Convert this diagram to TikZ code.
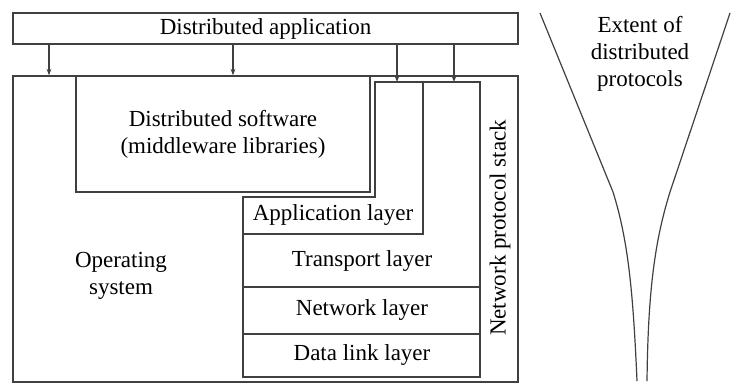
\documentclass[tikz,border=0pt]{standalone}
\usepackage{fontspec}
\setmainfont{Liberation Serif}
\usepackage{tikz}
\usetikzlibrary{positioning, arrows.meta}
\colorlet{edgegray}{black!75}

\begin{document}
\begin{tikzpicture}[x=0.5pt, y=-0.5pt,
    box/.style={draw=edgegray, line width=0.7pt, inner sep=0pt},
    lbl/.style={font=\fontsize{11.5}{13.5}\selectfont, align=center, inner sep=1pt},
    callarrow/.style={draw=edgegray, line width=0.6pt, -{Stealth[length=3.2pt, width=2.4pt]}}]
\useasboundingbox (0,0) rectangle (731,385);
% Distributed application
\node[box, lbl, minimum width=252.5pt, minimum height=15.5pt] (app) at (265.5,28.5)
    {Distributed application};
% Operating system and middleware
\node[box, minimum width=252.5pt, minimum height=153pt] (os) at (265.5,229) {};
\node[box, lbl, minimum width=147pt, minimum height=58pt] (mw) at (223,134)
    {Distributed software\\(middleware libraries)};
\node[lbl] (ostext) at (121,276) {Operating\\system};
% Network protocol stack outline
\coordinate (st1) at (375,82);
\coordinate (st2) at (480,82);
\coordinate (st3) at (480,377);
\coordinate (st4) at (243,377);
\coordinate (st5) at (243,197);
\coordinate (st6) at (375,197);
\draw[edgegray, line width=0.7pt] (st1) -- (st2) -- (st3) -- (st4) -- (st5) -- (st6) -- cycle;
% Layer separators
\coordinate (ap1) at (423,82);
\coordinate (ap2) at (423,234);
\coordinate (ap3) at (243,234);
\draw[edgegray, line width=0.7pt] (ap1) -- (ap2) -- (ap3);
\foreach \yy in {287, 334}{
    \draw[edgegray, line width=0.7pt] (243,\yy) -- (480,\yy);
}
% Layer labels
\node[lbl] (applayer) at (333,215) {Application layer};
\foreach \name/\yy/\txt in {transport/261/Transport layer,
    network/310/Network layer, datalink/355/Data link layer}{
    \node[lbl] (\name) at (362,\yy) {\txt};
}
\node[lbl, rotate=90] (stack) at (500,228) {Network protocol stack};
% Calls from the application
\coordinate (in1) at (397,82);
\coordinate (in2) at (454,82);
\draw[callarrow] (app.south -| 49,0) -- (os.north -| 49,0);
\draw[callarrow] (app.south -| 233,0) -- (os.north -| 233,0);
\draw[callarrow] (app.south -| in1) -- (in1);
\draw[callarrow] (app.south -| in2) -- (in2);
% Extent of distributed protocols
\draw[edgegray, line width=0.6pt] (540,13) -- (613,192)
    .. controls (628,240) and (633,290) .. (637,381);
\draw[edgegray, line width=0.6pt] (730,13) -- (670,192)
    .. controls (655,240) and (648,290) .. (647,381);
\node[lbl] (extent) at (640,54) {Extent of\\distributed\\protocols};
\end{tikzpicture}
\end{document}
